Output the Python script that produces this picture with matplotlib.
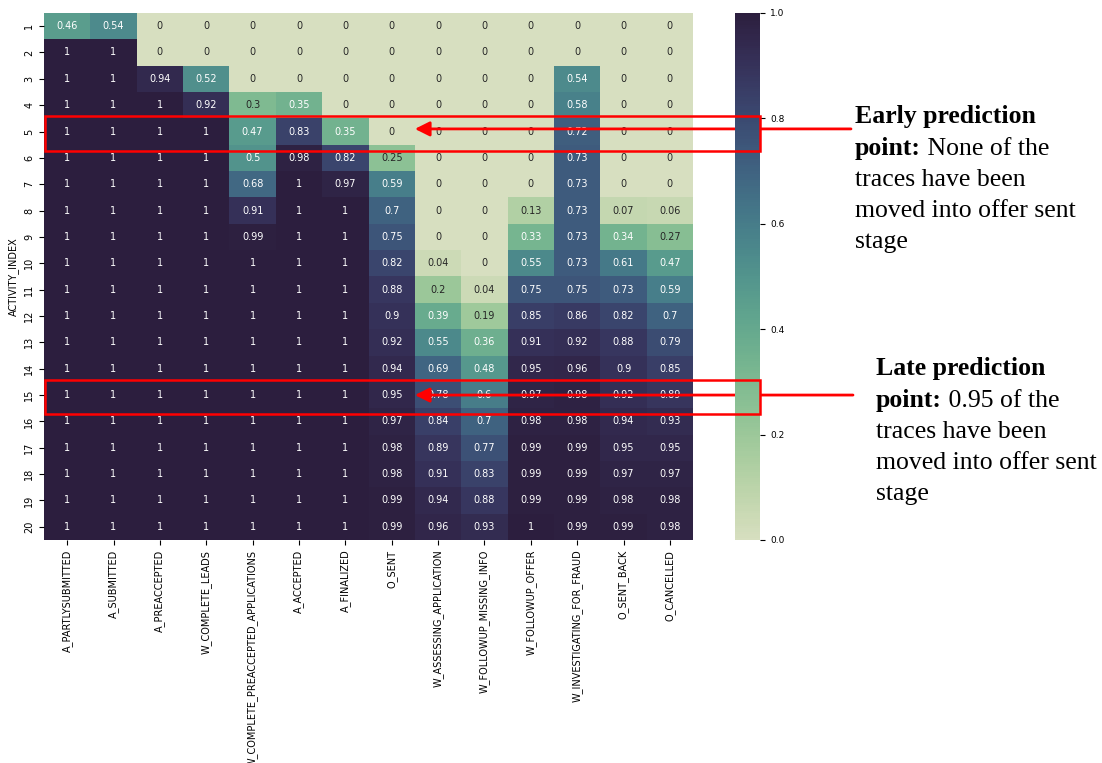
import numpy as np
import pandas as pd
import seaborn as sns
import matplotlib.pyplot as plt
from matplotlib.patches import Rectangle
from matplotlib import transforms

# share of traces that have reached each activity, per activity index
activity_index = list(range(1, 21))
A_PARTLYSUBMITTED = [0.46, 1, 1, 1, 1, 1, 1, 1, 1, 1, 1, 1, 1, 1, 1, 1, 1, 1, 1, 1]
A_SUBMITTED = [0.54, 1, 1, 1, 1, 1, 1, 1, 1, 1, 1, 1, 1, 1, 1, 1, 1, 1, 1, 1]
A_PREACCEPTED = [0, 0, 0.94, 1, 1, 1, 1, 1, 1, 1, 1, 1, 1, 1, 1, 1, 1, 1, 1, 1]
W_COMPLETE_LEADS = [0, 0, 0.52, 0.92, 1, 1, 1, 1, 1, 1, 1, 1, 1, 1, 1, 1, 1, 1, 1, 1]
W_COMPLETE_PREACCEPTED_APPLICATIONS = [0, 0, 0, 0.3, 0.47, 0.5, 0.68, 0.91, 0.99, 1,
                                       1, 1, 1, 1, 1, 1, 1, 1, 1, 1]
A_ACCEPTED = [0, 0, 0, 0.35, 0.83, 0.98, 1, 1, 1, 1, 1, 1, 1, 1, 1, 1, 1, 1, 1, 1]
A_FINALIZED = [0, 0, 0, 0, 0.35, 0.82, 0.97, 1, 1, 1, 1, 1, 1, 1, 1, 1, 1, 1, 1, 1]
O_SENT = [0, 0, 0, 0, 0, 0.25, 0.59, 0.7, 0.75, 0.82,
          0.88, 0.9, 0.92, 0.94, 0.95, 0.97, 0.98, 0.98, 0.99, 0.99]
W_ASSESSING_APPLICATION = [0, 0, 0, 0, 0, 0, 0, 0, 0, 0.04,
                           0.2, 0.39, 0.55, 0.69, 0.78, 0.84, 0.89, 0.91, 0.94, 0.96]
W_FOLLOWUP_MISSING_INFO = [0, 0, 0, 0, 0, 0, 0, 0, 0, 0,
                           0.04, 0.19, 0.36, 0.48, 0.6, 0.7, 0.77, 0.83, 0.88, 0.93]
W_FOLLOWUP_OFFER = [0, 0, 0, 0, 0, 0, 0, 0.13, 0.33, 0.55,
                    0.75, 0.85, 0.91, 0.95, 0.97, 0.98, 0.99, 0.99, 0.99, 1]
W_INVESTIGATING_FOR_FRAUD = [0, 0, 0.54, 0.58, 0.72, 0.73, 0.73, 0.73, 0.73, 0.73,
                             0.75, 0.86, 0.92, 0.96, 0.98, 0.98, 0.99, 0.99, 0.99, 0.99]
O_SENT_BACK = [0, 0, 0, 0, 0, 0, 0, 0.07, 0.34, 0.61,
               0.73, 0.82, 0.88, 0.9, 0.92, 0.94, 0.95, 0.97, 0.98, 0.99]
O_CANCELLED = [0, 0, 0, 0, 0, 0, 0, 0.06, 0.27, 0.47,
               0.59, 0.7, 0.79, 0.85, 0.89, 0.93, 0.95, 0.97, 0.98, 0.98]

df = pd.DataFrame({
    'A_PARTLYSUBMITTED': A_PARTLYSUBMITTED,
    'A_SUBMITTED': A_SUBMITTED,
    'A_PREACCEPTED': A_PREACCEPTED,
    'W_COMPLETE_LEADS': W_COMPLETE_LEADS,
    'W_COMPLETE_PREACCEPTED_APPLICATIONS': W_COMPLETE_PREACCEPTED_APPLICATIONS,
    'A_ACCEPTED': A_ACCEPTED,
    'A_FINALIZED': A_FINALIZED,
    'O_SENT': O_SENT,
    'W_ASSESSING_APPLICATION': W_ASSESSING_APPLICATION,
    'W_FOLLOWUP_MISSING_INFO': W_FOLLOWUP_MISSING_INFO,
    'W_FOLLOWUP_OFFER': W_FOLLOWUP_OFFER,
    'W_INVESTIGATING_FOR_FRAUD': W_INVESTIGATING_FOR_FRAUD,
    'O_SENT_BACK': O_SENT_BACK,
    'O_CANCELLED': O_CANCELLED,
}, index=pd.Index(activity_index, name='ACTIVITY_INDEX'))

early_row = 5
late_row = 15
offer_col = list(df.columns).index('O_SENT')

fig = plt.figure(figsize=(11.02, 7.63), dpi=100)
ax = fig.add_axes([0.0399, 0.2923, 0.589, 0.6907])
cax = fig.add_axes([0.667, 0.2923, 0.023, 0.6907])

cmap = sns.cubehelix_palette(start=.5, rot=-.75, as_cmap=True)
sns.heatmap(df, ax=ax, cbar_ax=cax, cmap=cmap, vmin=0, vmax=1,
            annot=True, annot_kws={'size': 7})

ax.tick_params(labelsize=7)
plt.setp(ax.get_yticklabels(), rotation=90, va='center')
plt.setp(ax.get_xticklabels(), rotation=90)
ax.set_xlabel('')
ax.set_ylabel('ACTIVITY_INDEX', fontsize=7)
cax.tick_params(labelsize=6.5)

# highlight boxes and arrows (x in figure space, y in row units)
red = '#ff0000'
trans = transforms.blended_transform_factory(fig.transFigure, ax.transData)
box_left, box_right = 45 / 1102, 760 / 1102
for row in (early_row, late_row):
    top = row - 1 - 0.08
    fig.add_artist(Rectangle((box_left, top), box_right - box_left, 1.3,
                             transform=trans, fill=False, edgecolor=red,
                             lw=1.8, clip_on=False))

for row, x_start, dy in ((early_row, 851 / 1102, -0.1), (late_row, 853 / 1102, 0.0)):
    ax.annotate('', xy=(offer_col + 1, row - 0.5 + dy), xycoords='data',
                xytext=(x_start, row - 0.5 + dy), textcoords=trans,
                arrowprops=dict(arrowstyle='-|>', color=red, lw=2,
                                mutation_scale=22, shrinkA=0, shrinkB=0),
                annotation_clip=False)

# side notes
serif = 'Liberation Serif'
fs = 18.5
H = 763.0


def note(x_px, y0_px, bold_first, bold_second, rest_second, lines):
    step = 31.3
    fig.text(x_px / 1102, 1 - y0_px / H, bold_first, family=serif,
             fontweight='bold', fontsize=fs, va='center')
    b = fig.text(x_px / 1102, 1 - (y0_px + step) / H, bold_second, family=serif,
                 fontweight='bold', fontsize=fs, va='center')
    ax.annotate(rest_second, xy=(1, 0), xycoords=b, va='bottom', ha='left',
                family=serif, fontsize=fs, annotation_clip=False)
    for i, line in enumerate(lines):
        fig.text(x_px / 1102, 1 - (y0_px + step * (i + 2)) / H, line,
                 family=serif, fontsize=fs, va='center')


note(855, 117, 'Early prediction', 'point:', ' None of the',
     ['traces have been', 'moved into offer sent', 'stage'])
note(876, 369, 'Late prediction', 'point:', ' 0.95 of the',
     ['traces have been', 'moved into offer sent', 'stage'])

fig.savefig('out.png', dpi=100)
